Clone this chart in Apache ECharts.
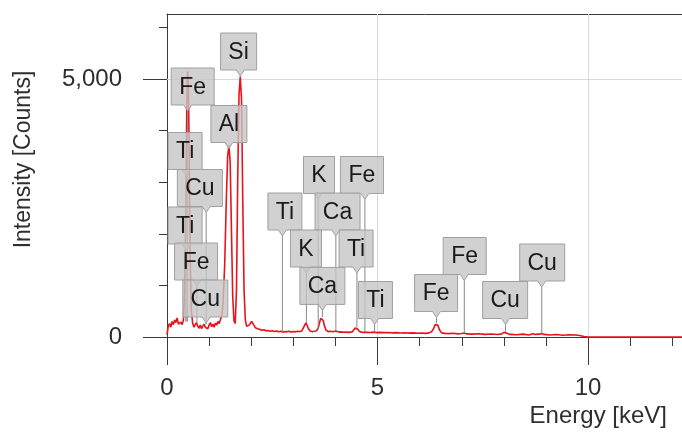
<!DOCTYPE html>
<html>
<head>
<meta charset="utf-8">
<script src="https://cdn.jsdelivr.net/npm/echarts@6/dist/echarts.min.js"></script>
<style>
  html, body { margin: 0; padding: 0; background: #fff; }
  #chart { width: 682px; height: 434px; }
</style>
</head>
<body>
<div id="chart"></div>
<script>
// EDS spectrum
const energy = [
  0.00, 0.03, 0.06, 0.09, 0.12, 0.15, 0.18, 0.21, 0.24, 0.27, 0.30, 0.33, 0.36, 0.39,
  0.42, 0.45, 0.47, 0.49, 0.51, 0.53, 0.55, 0.58, 0.61, 0.64, 0.67, 0.70, 0.73, 0.76,
  0.79, 0.82, 0.85, 0.88, 0.91, 0.94, 0.97, 1.00, 1.03, 1.06, 1.09, 1.12, 1.15, 1.18,
  1.21, 1.24, 1.27, 1.30, 1.33, 1.37, 1.41, 1.44, 1.47, 1.50, 1.53, 1.56, 1.59, 1.62,
  1.65, 1.68, 1.71, 1.74, 1.77, 1.80, 1.83, 1.86, 1.89, 1.92, 1.95, 1.98, 2.01, 2.04,
  2.07, 2.10, 2.15, 2.20, 2.25, 2.30, 2.35, 2.40, 2.45, 2.50, 2.55, 2.60, 2.65, 2.70,
  2.75, 2.80, 2.85, 2.90, 2.95, 3.00, 3.05, 3.10, 3.15, 3.20, 3.24, 3.27, 3.30, 3.33,
  3.36, 3.40, 3.45, 3.50, 3.55, 3.59, 3.62, 3.65, 3.68, 3.71, 3.74, 3.78, 3.83, 3.88,
  3.94, 4.00, 4.05, 4.10, 4.15, 4.20, 4.25, 4.30, 4.35, 4.40, 4.44, 4.47, 4.50, 4.53,
  4.57, 4.62, 4.68, 4.75, 4.82, 4.90, 4.98, 5.05, 5.15, 5.25, 5.35, 5.45, 5.55, 5.65,
  5.75, 5.85, 5.95, 6.05, 6.15, 6.22, 6.28, 6.33, 6.37, 6.40, 6.43, 6.47, 6.52, 6.60,
  6.70, 6.80, 6.90, 7.00, 7.06, 7.12, 7.25, 7.40, 7.55, 7.70, 7.85, 7.95, 8.00, 8.04,
  8.08, 8.15, 8.30, 8.45, 8.60, 8.68, 8.75, 8.85, 8.90, 8.95, 9.10, 9.25, 9.40, 9.55,
  9.70, 9.80, 9.90, 10.00, 12.23
];
const counts = [
  40, 210, 260, 190, 300, 240, 330, 280, 370, 250, 220, 290, 240, 330,
  900, 2600, 4500, 5150, 4800, 3200, 1500, 500, 260, 190, 240, 280, 210, 170,
  230, 160, 210, 250, 190, 220, 160, 230, 280, 200, 250, 190, 270, 230,
  300, 260, 340, 420, 650, 1400, 2700, 3500, 3720, 3400, 2100, 800, 320, 260,
  900, 3100, 4700, 5050, 4600, 2600, 900, 330, 210, 190, 230, 250, 300, 270,
  220, 180, 160, 150, 130, 140, 120, 125, 110, 120, 105, 115, 100, 110,
  95, 105, 100, 110, 95, 105, 100, 110, 105, 115, 150, 230, 275, 240,
  160, 115, 105, 110, 120, 170, 270, 360, 385, 320, 210, 130, 105, 110,
  100, 115, 105, 95, 100, 92, 98, 90, 95, 100, 125, 175, 185, 150,
  105, 95, 90, 92, 88, 95, 85, 90, 85, 88, 80, 85, 78, 82,
  75, 80, 72, 78, 70, 80, 100, 160, 240, 270, 230, 140, 80, 70,
  65, 72, 60, 68, 78, 60, 55, 62, 50, 58, 48, 60, 90, 105,
  70, 50, 45, 55, 40, 62, 50, 55, 70, 50, 40, 48, 35, 45,
  40, 30, 10, 0, 0
];

// element callouts: name, line target (keV, counts), box centre (keV, counts)
const labelNames  = ['Si', 'Fe', 'Al', 'Ti', 'Cu', 'Ti', 'Fe', 'Cu',
                     'Ti', 'K', 'Fe', 'Ca', 'K', 'Ti', 'Ca', 'Ti',
                     'Fe', 'Fe', 'Cu', 'Cu'];
const labelEnergy = [1.74, 0.49, 1.47, 0.45, 0.93, 0.45, 0.71, 0.93,
                     2.74, 3.59, 4.70, 4.01, 3.31, 4.51, 3.69, 4.93,
                     6.40, 7.06, 8.04, 8.90];
const labelCounts = [5050, 300, 3720, 300, 250, 300, 280, 250,
                     100, 150, 95, 115, 275, 185, 385, 90,
                     270, 75, 105, 70];
const boxEnergy   = [1.70, 0.61, 1.47, 0.43, 0.78, 0.43, 0.69, 0.91,
                     2.80, 3.61, 4.63, 4.05, 3.30, 4.49, 3.69, 4.95,
                     6.39, 7.07, 8.03, 8.91];
const boxCounts   = [5533, 4855, 4128, 3605, 2888, 2161, 1463, 746,
                     2432, 3140, 3140, 2432, 1715, 1715, 990, 717,
                     853, 1570, 717, 1444];

const xTicksMinor = [1, 2, 3, 4, 6, 7, 8, 9, 11, 12];
const xTicksMajor = [0, 5, 10];
const yTicksMinor = [1000, 2000, 3000, 4000, 6000];
const yTicksMajor = [0, 5000];
const gridX = [5, 10];
const gridY = [5000];

const FONT = '"Liberation Sans", Arial, sans-serif';
const axisColor = '#3a3a3a';

const spectrum = energy.map((e, i) => [e, counts[i]]);
const callouts = labelNames.map((n, i) => [labelEnergy[i], labelCounts[i], boxEnergy[i], boxCounts[i]]);

const measureCtx = document.createElement('canvas').getContext('2d');
measureCtx.font = '23px ' + FONT;

function renderCallout(params, api) {
  const name = labelNames[params.dataIndex];
  const tgt = api.coord([api.value(0), api.value(1)]);
  const ctr = api.coord([api.value(2), api.value(3)]);
  const w = Math.round(measureCtx.measureText(name).width + 16);
  const h = 37;
  const l = ctr[0] - w / 2, r = ctr[0] + w / 2;
  const t = ctr[1] - h / 2, b = ctr[1] + h / 2;
  const tx = Math.min(Math.max(tgt[0], l + 6), r - 6);
  return {
    type: 'group',
    children: [
      {
        type: 'line',
        shape: { x1: tx, y1: b + 6, x2: tx, y2: tgt[1] },
        style: { stroke: '#888', lineWidth: 1 }
      },
      {
        type: 'polygon',
        shape: { points: [[l, t], [r, t], [r, b], [tx + 4, b], [tx, b + 6], [tx - 4, b], [l, b]] },
        style: { fill: 'rgba(198,198,198,0.8)', stroke: '#a0a0a0', lineWidth: 1 }
      },
      {
        type: 'text',
        x: ctr[0], y: ctr[1] + 1,
        style: {
          text: name, fill: '#1a1a1a', font: '23px ' + FONT,
          align: 'center', verticalAlign: 'middle'
        }
      }
    ]
  };
}

const chart = echarts.init(document.getElementById('chart'));

chart.setOption({
  animation: false,
  backgroundColor: '#fff',
  grid: { left: 167, top: 14, right: 0, bottom: 97 },
  xAxis: [
    {
      type: 'value', min: 0, max: 12.23,
      axisLine: { lineStyle: { color: axisColor, width: 1 } },
      axisTick: { customValues: xTicksMinor, length: 9, lineStyle: { color: axisColor } },
      axisLabel: {
        customValues: xTicksMajor, margin: 39,
        fontSize: 24, fontFamily: FONT, color: '#2e2e2e'
      },
      splitLine: { show: false }
    },
    {
      type: 'value', min: 0, max: 12.23, position: 'bottom',
      axisLine: { show: false },
      axisTick: { customValues: xTicksMajor, length: 28, lineStyle: { color: axisColor } },
      axisLabel: { show: false },
      splitLine: { show: false },
      name: 'Energy [keV]',
      nameLocation: 'end',
      nameGap: -15,
      nameTextStyle: {
        fontSize: 24, fontFamily: FONT, color: '#2e2e2e',
        align: 'right', verticalAlign: 'top', padding: [67, 0, 0, 0]
      }
    },
    {
      type: 'value', min: 0, max: 12.23, position: 'top',
      axisLine: { onZero: false, lineStyle: { color: axisColor, width: 1 } },
      axisTick: { show: false },
      axisLabel: { show: false },
      splitLine: { show: false }
    }
  ],
  yAxis: [
    {
      type: 'value', min: 0, max: 6260,
      axisLine: { show: true, lineStyle: { color: axisColor, width: 1 } },
      axisTick: { show: true, customValues: yTicksMinor, length: 8, lineStyle: { color: axisColor } },
      axisLabel: {
        customValues: yTicksMajor, margin: 45,
        fontSize: 24, fontFamily: FONT, color: '#2e2e2e',
        formatter: v => v.toLocaleString('en-US')
      },
      splitLine: { show: false },
      name: 'Intensity [Counts]',
      nameLocation: 'middle',
      nameGap: 132,
      nameTextStyle: { fontSize: 23, fontFamily: FONT, color: '#2e2e2e', padding: [0, 0, 0, 32] }
    },
    {
      type: 'value', min: 0, max: 6260, position: 'left',
      axisLine: { show: false },
      axisTick: { show: true, customValues: yTicksMajor, length: 24, lineStyle: { color: axisColor } },
      axisLabel: { show: false },
      splitLine: { show: false }
    }
  ],
  series: [
    {
      type: 'line',
      data: spectrum,
      showSymbol: false,
      symbol: 'none',
      z: 2,
      lineStyle: { color: '#e8121b', width: 1.6 },
      markLine: {
        silent: true,
        z: 1,
        symbol: 'none',
        label: { show: false },
        lineStyle: { color: '#d9d9d9', type: 'solid', width: 1 },
        data: gridX.map(v => ({ xAxis: v })).concat(gridY.map(v => ({ yAxis: v })))
      }
    },
    {
      type: 'custom',
      data: callouts,
      z: 5,
      clip: false,
      renderItem: renderCallout
    }
  ]
});
</script>
</body>
</html>
